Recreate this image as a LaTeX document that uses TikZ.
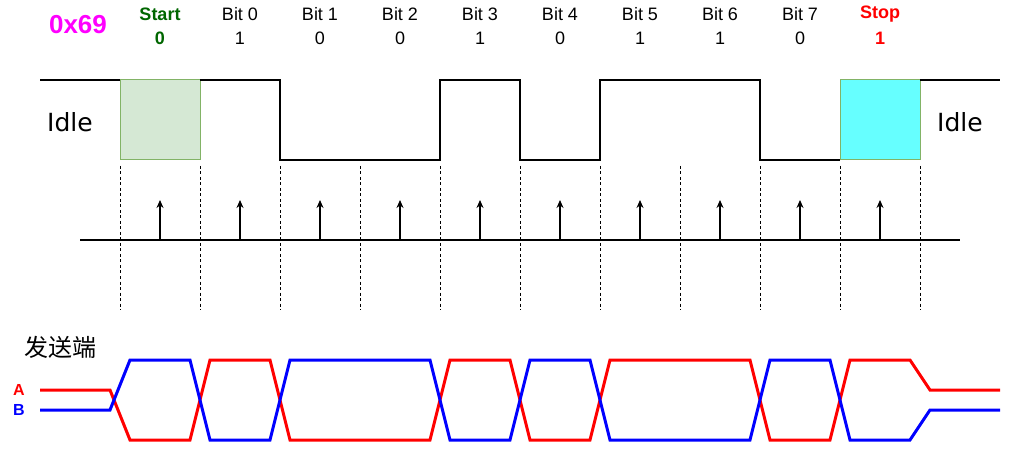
\documentclass[tikz,border=0pt]{standalone}
\usepackage{fontspec}
\setmainfont{Liberation Sans}
\newfontfamily\idlefont{DejaVu Sans}
\newfontfamily\cjkfont{Noto Sans CJK SC}
\usetikzlibrary{arrows.meta}
\definecolor{HexPink}{HTML}{FF00FF}
\definecolor{StartGreen}{HTML}{006600}
\definecolor{StopRed}{HTML}{FF0000}
\definecolor{BoxGreen}{HTML}{D5E8D4}
\definecolor{EdgeGreen}{HTML}{82B366}
\definecolor{BoxCyan}{HTML}{66FFFF}
\definecolor{LineA}{HTML}{FF0000}
\definecolor{LineB}{HTML}{0000FF}

\begin{document}
\begin{tikzpicture}[x=1pt,y=-1pt,
  lbl/.style={font=\fontsize{18}{20}\selectfont,inner sep=0pt},
  idle/.style={font=\idlefont\fontsize{25}{28}\selectfont,inner sep=0pt},
  wave/.style={line width=1.2pt,line join=miter},
  slot/.style={line width=0.8pt,dash pattern=on 3pt off 2.5pt},
  diff/.style={line width=3pt,line join=miter}]
\useasboundingbox (0,0) rectangle (1014,454);

% header
\node[lbl,HexPink,font=\bfseries\fontsize{26}{28}\selectfont] (hex) at (78,25) {0x69};
\node[lbl,StartGreen,font=\bfseries\fontsize{18}{20}\selectfont] (start) at (160,14) {Start};
\node[lbl,StartGreen,font=\bfseries\fontsize{18}{20}\selectfont] (startv) at (160,38) {0};
\foreach \i/\v in {0/1,1/0,2/0,3/1,4/0,5/1,6/1,7/0} {
  \node[lbl] (bit\i) at ({240+80*\i},14) {Bit \i};
  \node[lbl] (val\i) at ({240+80*\i},38) {\v};
}
\node[lbl,StopRed,font=\bfseries\fontsize{18}{20}\selectfont] (stop) at (880,14) {Stop};
\node[lbl,StopRed,font=\bfseries\fontsize{18}{20}\selectfont] (stopv) at (880,38) {1};

% logic level
\draw[EdgeGreen,fill=BoxGreen,line width=1pt] (120,80) rectangle (200,160);
\draw[EdgeGreen,fill=BoxCyan,line width=1pt] (840,80) rectangle (920,160);
\draw[wave] (40,80) -- (120,80);
\draw[wave] (200,80) -- (280,80) -- (280,160) -- (440,160) -- (440,80) -- (520,80)
  -- (520,160) -- (600,160) -- (600,80) -- (760,80) -- (760,160) -- (840,160);
\draw[wave] (920,80) -- (1000,80);
\node[idle] (idleL) at (70,122) {Idle};
\node[idle] (idleR) at (960,122) {Idle};

% bit slots and sample points
\foreach \k in {0,...,10}
  \draw[slot] ({120+80*\k},166) -- ({120+80*\k},310);
\draw[line width=1.3pt] (80,240) -- (960,240);
\foreach \k in {0,...,9} {
  \coordinate (s\k) at ({160+80*\k},240);
  \coordinate (t\k) at ({160+80*\k},200);
  \draw[line width=1.2pt,-{Stealth[length=8pt,width=7pt]}] (s\k) -- (t\k);
}

% differential pair
\node[font=\cjkfont\fontsize{24}{26}\selectfont,inner sep=0pt] (tx) at (60,347) {发送端};
\node[lbl,LineA,font=\bfseries\fontsize{16}{18}\selectfont] (labA) at (19,390) {A};
\node[lbl,LineB,font=\bfseries\fontsize{16}{18}\selectfont] (labB) at (19,410) {B};
\draw[diff,LineA] (40,390) -- (110,390) -- (130,440) -- (190,440) -- (210,360) -- (270,360)
  -- (290,440) -- (430,440) -- (450,360) -- (510,360) -- (530,440) -- (590,440)
  -- (610,360) -- (750,360) -- (770,440) -- (830,440) -- (850,360) -- (910,360)
  -- (930,390) -- (1000,390);
\draw[diff,LineB] (40,410) -- (110,410) -- (130,360) -- (190,360) -- (210,440) -- (270,440)
  -- (290,360) -- (430,360) -- (450,440) -- (510,440) -- (530,360) -- (590,360)
  -- (610,440) -- (750,440) -- (770,360) -- (830,360) -- (850,440) -- (910,440)
  -- (930,410) -- (1000,410);
\end{tikzpicture}
\end{document}
